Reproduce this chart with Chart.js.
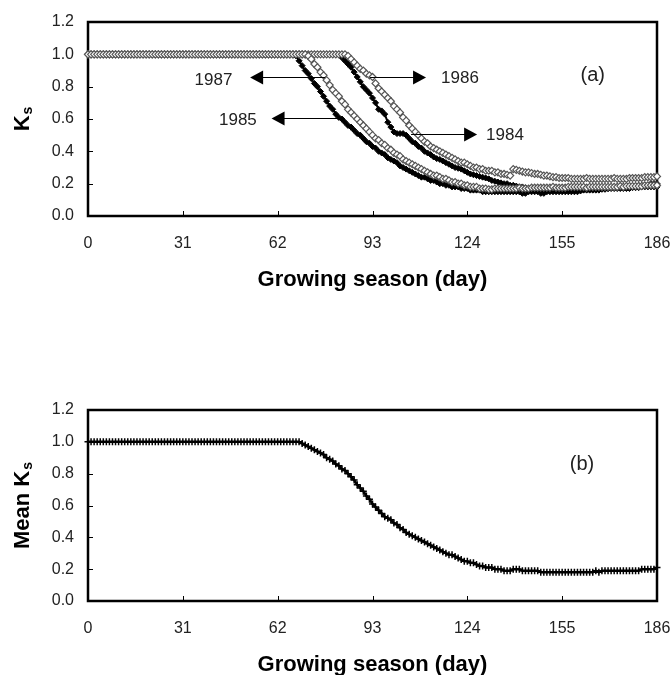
<!DOCTYPE html>
<html>
<head>
<meta charset="utf-8">
<script src="https://cdn.jsdelivr.net/npm/chart.js@4/dist/chart.umd.min.js"></script>
<style>
  body { margin: 0; background: #fff; }
  canvas { display: block; }
</style>
</head>
<body>
<canvas id="chartA" width="670" height="330"></canvas>
<canvas id="chartB" width="670" height="345"></canvas>
<script>
// daily Ks values, index = day of growing season (0..186)
const ks1984 = [
  1,1,1,1,1,1,1,1,1,1,
  1,1,1,1,1,1,1,1,1,1,
  1,1,1,1,1,1,1,1,1,1,
  1,1,1,1,1,1,1,1,1,1,
  1,1,1,1,1,1,1,1,1,1,
  1,1,1,1,1,1,1,1,1,1,
  1,1,1,1,1,1,1,1,1,1,
  1,1,1,1,1,1,1,1,1,1,
  1,1,1.00,0.98,0.96,0.94,0.92,0.89,0.86,0.83,
  0.80,0.78,0.76,0.73,0.70,0.66,0.65,0.63,0.58,0.55,
  0.52,0.51,0.51,0.51,0.50,0.48,0.46,0.45,0.43,0.42,
  0.40,0.39,0.38,0.365,0.355,0.35,0.34,0.33,0.32,0.31,
  0.30,0.295,0.29,0.28,0.27,0.26,0.255,0.25,0.245,0.24,
  0.235,0.23,0.22,0.215,0.21,0.205,0.20,0.20,0.19,0.19,
  0.185,0.18,0.18,0.175,0.17,0.17,0.165,0.16,0.16,0.16,
  0.16,0.16,0.16,0.16,0.16,0.16,0.16,0.16,0.16,0.16,
  0.16,0.16,0.165,0.17,0.17,0.17,0.17,0.17,0.17,0.17,
  0.17,0.175,0.18,0.18,0.18,0.18,0.18,0.18,0.18,0.185,
  0.19,0.19,0.19,0.19,0.20,0.20,0.20
];
const ks1985 = [
  1,1,1,1,1,1,1,1,1,1,
  1,1,1,1,1,1,1,1,1,1,
  1,1,1,1,1,1,1,1,1,1,
  1,1,1,1,1,1,1,1,1,1,
  1,1,1,1,1,1,1,1,1,1,
  1,1,1,1,1,1,1,1,1,1,
  1,1,1,1,1,1,1,1,0.99,0.96,
  0.93,0.90,0.88,0.85,0.82,0.80,0.77,0.74,0.71,0.68,
  0.66,0.63,0.61,0.60,0.58,0.56,0.55,0.53,0.51,0.50,
  0.48,0.46,0.45,0.43,0.42,0.40,0.39,0.38,0.36,0.35,
  0.34,0.33,0.31,0.30,0.29,0.28,0.27,0.26,0.25,0.24,
  0.24,0.23,0.22,0.22,0.21,0.20,0.20,0.19,0.19,0.18,
  0.18,0.18,0.17,0.17,0.17,0.16,0.16,0.16,0.16,0.15,
  0.15,0.15,0.15,0.15,0.15,0.15,0.15,0.15,0.15,0.15,
  0.15,0.15,0.14,0.14,0.15,0.15,0.15,0.15,0.14,0.14,
  0.15,0.15,0.15,0.15,0.15,0.15,0.15,0.15,0.15,0.15,
  0.15,0.155,0.16,0.16,0.16,0.16,0.16,0.16,0.165,0.165,
  0.17,0.17,0.17,0.17,0.17,0.17,0.17,0.17,0.175,0.175,
  0.175,0.18,0.18,0.18,0.18,0.18,0.18
];
const ks1986 = [
  1,1,1,1,1,1,1,1,1,1,
  1,1,1,1,1,1,1,1,1,1,
  1,1,1,1,1,1,1,1,1,1,
  1,1,1,1,1,1,1,1,1,1,
  1,1,1,1,1,1,1,1,1,1,
  1,1,1,1,1,1,1,1,1,1,
  1,1,1,1,1,1,1,1,1,1,
  1,1,1,1,1,1,1,1,1,1,
  1,1,1,1,1,0.99,0.97,0.95,0.93,0.91,
  0.90,0.88,0.87,0.86,0.82,0.79,0.77,0.75,0.73,0.71,
  0.68,0.66,0.64,0.61,0.59,0.56,0.54,0.52,0.50,0.48,
  0.46,0.45,0.43,0.42,0.41,0.40,0.39,0.38,0.37,0.36,
  0.35,0.34,0.33,0.33,0.32,0.31,0.30,0.30,0.29,0.29,
  0.28,0.28,0.28,0.27,0.27,0.26,0.26,0.255,0.25,0.29,
  0.285,0.28,0.275,0.27,0.27,0.265,0.26,0.26,0.255,0.25,
  0.25,0.245,0.24,0.24,0.235,0.235,0.235,0.235,0.23,0.23,
  0.23,0.23,0.23,0.235,0.23,0.23,0.23,0.23,0.23,0.23,
  0.23,0.23,0.235,0.23,0.23,0.23,0.23,0.235,0.235,0.235,
  0.235,0.235,0.24,0.24,0.24,0.24,0.245
];
const ks1987 = [
  1,1,1,1,1,1,1,1,1,1,
  1,1,1,1,1,1,1,1,1,1,
  1,1,1,1,1,1,1,1,1,1,
  1,1,1,1,1,1,1,1,1,1,
  1,1,1,1,1,1,1,1,1,1,
  1,1,1,1,1,1,1,1,1,1,
  1,1,1,1,1,1,1,1,1,1,
  1,1,0.99,0.97,0.94,0.92,0.89,0.87,0.84,0.81,
  0.78,0.76,0.74,0.71,0.69,0.66,0.64,0.62,0.60,0.58,
  0.56,0.54,0.52,0.50,0.48,0.47,0.45,0.44,0.42,0.41,
  0.39,0.38,0.37,0.35,0.34,0.33,0.32,0.31,0.30,0.29,
  0.28,0.27,0.26,0.25,0.25,0.24,0.23,0.23,0.22,0.21,
  0.21,0.20,0.20,0.19,0.19,0.18,0.18,0.18,0.17,0.17,
  0.17,0.165,0.165,0.17,0.17,0.17,0.17,0.17,0.17,0.17,
  0.17,0.175,0.17,0.17,0.17,0.175,0.175,0.175,0.175,0.175,
  0.175,0.175,0.18,0.175,0.175,0.175,0.175,0.18,0.18,0.18,
  0.18,0.18,0.18,0.175,0.18,0.18,0.18,0.18,0.18,0.18,
  0.18,0.18,0.18,0.18,0.185,0.18,0.185,0.185,0.185,0.185,
  0.185,0.185,0.19,0.19,0.19,0.19,0.19
];
const meanKs = [
  1,1,1,1,1,1,1,1,1,1,
  1,1,1,1,1,1,1,1,1,1,
  1,1,1,1,1,1,1,1,1,1,
  1,1,1,1,1,1,1,1,1,1,
  1,1,1,1,1,1,1,1,1,1,
  1,1,1,1,1,1,1,1,1,1,
  1,1,1,1,1,1,1,1,1,1.00,
  0.99,0.98,0.97,0.96,0.95,0.94,0.93,0.92,0.90,0.89,
  0.88,0.86,0.85,0.83,0.82,0.80,0.78,0.76,0.73,0.71,
  0.69,0.66,0.64,0.61,0.59,0.57,0.55,0.53,0.52,0.51,
  0.49,0.48,0.46,0.45,0.43,0.42,0.41,0.40,0.39,0.38,
  0.37,0.36,0.35,0.34,0.33,0.32,0.31,0.30,0.29,0.29,
  0.28,0.27,0.26,0.25,0.25,0.24,0.24,0.23,0.22,0.22,
  0.21,0.21,0.21,0.20,0.20,0.20,0.19,0.19,0.19,0.20,
  0.20,0.20,0.19,0.19,0.19,0.19,0.19,0.19,0.18,0.18,
  0.18,0.18,0.18,0.18,0.18,0.18,0.18,0.18,0.18,0.18,
  0.18,0.18,0.18,0.18,0.18,0.18,0.19,0.18,0.19,0.19,
  0.19,0.19,0.19,0.19,0.19,0.19,0.19,0.19,0.19,0.19,
  0.19,0.20,0.20,0.20,0.20,0.20,0.21
];

const dayMin = 0, dayMax = 186, dayStep = 31;
const ksMin = 0, ksMax = 1.2, ksStep = 0.2;

Chart.defaults.font.family = '"Liberation Sans", Arial, sans-serif';
Chart.defaults.color = '#222';

const toPoints = arr => arr.map((v, i) => ({ x: i, y: v }));

// frame, inward ticks, axis titles and text notes
const framePlugin = {
  id: 'frame',
  beforeDatasetsDraw(chart) {
    const { ctx, chartArea: a, scales: { x, y } } = chart;
    ctx.save();
    ctx.strokeStyle = '#000';
    ctx.lineWidth = 1;
    ctx.beginPath();
    x.ticks.forEach(t => {
      if (t.value <= dayMin || t.value >= dayMax) return;
      const px = Math.round(x.getPixelForValue(t.value)) + 0.5;
      ctx.moveTo(px, a.bottom);
      ctx.lineTo(px, a.bottom - 5);
    });
    y.ticks.forEach(t => {
      if (t.value <= ksMin || t.value >= ksMax - 1e-9) return;
      const py = Math.round(y.getPixelForValue(t.value)) + 0.5;
      ctx.moveTo(a.left, py);
      ctx.lineTo(a.left + 5, py);
    });
    ctx.stroke();
    ctx.lineWidth = 2.5;
    ctx.strokeRect(a.left, a.top, a.right - a.left, a.bottom - a.top);
    ctx.restore();
  },
  afterDraw(chart, args, opts) {
    const { ctx, chartArea: a, scales: { x, y } } = chart;
    ctx.save();
    ctx.fillStyle = '#000';

    // x title
    ctx.font = 'bold 22px "Liberation Sans", Arial, sans-serif';
    ctx.textAlign = 'center';
    ctx.textBaseline = 'middle';
    ctx.fillText('Growing season (day)', (a.left + a.right) / 2, a.bottom + 64);

    // y title with subscript
    const mainFont = 'bold 22px "Liberation Sans", Arial, sans-serif';
    const subFont = 'bold 14px "Liberation Sans", Arial, sans-serif';
    ctx.font = mainFont;
    const w1 = ctx.measureText(opts.yTitle).width;
    ctx.font = subFont;
    const w2 = ctx.measureText('s').width;
    const total = w1 + w2 + 1;
    ctx.translate(29, (a.top + a.bottom) / 2);
    ctx.rotate(-Math.PI / 2);
    ctx.textAlign = 'left';
    ctx.textBaseline = 'alphabetic';
    ctx.font = mainFont;
    ctx.fillText(opts.yTitle, -total / 2, 0);
    ctx.font = subFont;
    ctx.fillText('s', -total / 2 + w1 + 1, 3);
    ctx.setTransform(1, 0, 0, 1, 0, 0);

    // notes and arrows
    (opts.notes || []).forEach(n => {
      ctx.font = n.size + 'px "Liberation Sans", Arial, sans-serif';
      ctx.fillStyle = '#222';
      ctx.textAlign = 'center';
      ctx.textBaseline = 'middle';
      ctx.fillText(n.text, x.getPixelForValue(n.x), y.getPixelForValue(n.y));
      if (n.from === undefined) return;
      const x0 = x.getPixelForValue(n.from);
      const x1 = x.getPixelForValue(n.to);
      const py = Math.round(y.getPixelForValue(n.ay)) + 0.5;
      const dir = x1 > x0 ? 1 : -1;
      ctx.strokeStyle = '#000';
      ctx.lineWidth = 1;
      ctx.beginPath();
      ctx.moveTo(x0, py);
      ctx.lineTo(x1 - dir * 10, py);
      ctx.stroke();
      ctx.fillStyle = '#000';
      ctx.beginPath();
      ctx.moveTo(x1, py);
      ctx.lineTo(x1 - dir * 13, py - 7);
      ctx.lineTo(x1 - dir * 13, py + 7);
      ctx.closePath();
      ctx.fill();
    });
    ctx.restore();
  }
};

function axes(xHeight) {
  return {
    x: {
      type: 'linear', min: dayMin, max: dayMax,
      grid: { display: false, drawTicks: false },
      border: { display: false },
      ticks: { stepSize: dayStep, padding: 18, font: { size: 16 }, color: '#222', maxRotation: 0 },
      afterFit: s => { s.height = xHeight; s.paddingRight = 0; s.paddingLeft = 0; }
    },
    y: {
      min: ksMin, max: ksMax,
      grid: { display: false, drawTicks: false },
      border: { display: false },
      ticks: { stepSize: ksStep, padding: 14, font: { size: 16 }, color: '#222',
        callback: v => Number(v).toFixed(1) },
      afterFit: s => { s.width = 88; s.paddingTop = 0; s.paddingBottom = 0; }
    }
  };
}

function openSeries(label, data) {
  return {
    label, data: toPoints(data),
    borderColor: '#666', borderWidth: 1,
    pointStyle: 'rectRot', pointRadius: 3.5, pointBorderWidth: 1.2,
    pointBorderColor: '#555', pointBackgroundColor: '#fff',
    clip: false
  };
}
function filledSeries(label, data) {
  return {
    label, data: toPoints(data),
    borderColor: '#000', borderWidth: 2,
    pointStyle: 'rectRot', pointRadius: 3, pointBorderWidth: 1,
    pointBorderColor: '#000', pointBackgroundColor: '#000',
    clip: false
  };
}

new Chart(document.getElementById('chartA'), {
  type: 'line',
  data: {
    datasets: [
      openSeries('1987', ks1987),
      openSeries('1986', ks1986),
      filledSeries('1985', ks1985),
      filledSeries('1984', ks1984)
    ]
  },
  options: {
    responsive: false,
    animation: false,
    events: [],
    layout: { padding: { top: 22, right: 13, left: 0, bottom: 0 } },
    scales: axes(114),
    plugins: {
      legend: { display: false },
      tooltip: { enabled: false },
      frame: {
        yTitle: 'K',
        notes: [
          { text: '1987', size: 17, x: 41, y: 0.84, from: 77.5, to: 53, ay: 0.86 },
          { text: '1985', size: 17, x: 49, y: 0.59, from: 82.7, to: 60, ay: 0.606 },
          { text: '1986', size: 17, x: 121.6, y: 0.85, from: 92.2, to: 110.5, ay: 0.86 },
          { text: '1984', size: 17, x: 136.3, y: 0.50, from: 105.6, to: 127.2, ay: 0.507 },
          { text: '(a)', size: 20, x: 165, y: 0.87 }
        ]
      }
    }
  },
  plugins: [framePlugin]
});

new Chart(document.getElementById('chartB'), {
  type: 'line',
  data: {
    datasets: [{
      label: 'Mean Ks', data: toPoints(meanKs),
      borderColor: '#000', borderWidth: 2.5,
      pointStyle: 'cross', pointRadius: 3.5, pointBorderWidth: 1.5,
      pointBorderColor: '#000', pointBackgroundColor: '#000',
      clip: false
    }]
  },
  options: {
    responsive: false,
    animation: false,
    events: [],
    layout: { padding: { top: 80, right: 13, left: 0, bottom: 0 } },
    scales: axes(74),
    plugins: {
      legend: { display: false },
      tooltip: { enabled: false },
      frame: {
        yTitle: 'Mean K',
        notes: [
          { text: '(b)', size: 20, x: 161.5, y: 0.86 }
        ]
      }
    }
  },
  plugins: [framePlugin]
});
</script>
</body>
</html>
